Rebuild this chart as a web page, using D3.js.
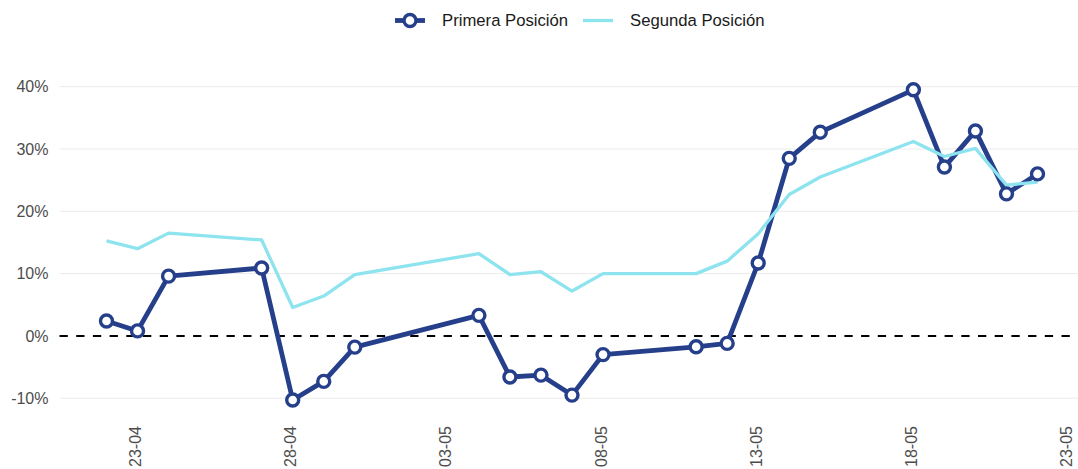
<!DOCTYPE html>
<html>
<head>
<meta charset="utf-8">
<script src="https://cdn.jsdelivr.net/npm/d3@7"></script>
<style>
  body { margin: 0; background: #fff; }
  svg text { font-family: "Liberation Sans", Arial, sans-serif; }
</style>
</head>
<body>
<div id="chart"></div>
<script>
// data
const dates = ["2023-04-22", "2023-04-23", "2023-04-24", "2023-04-27", "2023-04-28", "2023-04-29",
    "2023-04-30", "2023-05-04", "2023-05-05", "2023-05-06", "2023-05-07", "2023-05-08",
    "2023-05-11", "2023-05-12", "2023-05-13", "2023-05-14", "2023-05-15", "2023-05-18",
    "2023-05-19", "2023-05-20", "2023-05-21", "2023-05-22"];
const primera = [2.4, 0.8, 9.6, 10.9, -10.3, -7.3, -1.8, 3.3, -6.6, -6.3, -9.5, -3.0,
    -1.75, -1.2, 11.7, 28.5, 32.7, 39.5, 27.1, 32.9, 22.8, 26.0];
const segunda = [15.25, 14.0, 16.5, 15.4, 4.55, 6.4, 9.85, 13.2, 9.85, 10.3, 7.2, 10.0,
    10.0, 12.0, 16.4, 22.7, 25.5, 31.2, 28.8, 30.1, 24.2, 24.7];
const yTicks = [-10, 0, 10, 20, 30, 40];
const xTicks = ["2023-04-23", "2023-04-28", "2023-05-03", "2023-05-08", "2023-05-13", "2023-05-18", "2023-05-23"];
const seriesNames = ["Primera Posición", "Segunda Posición"];

const width = 1078, height = 469;
const colPrim = "#263f8b", colSeg = "#8de3ee";

const svg = d3.select("#chart").append("svg")
    .attr("width", width)
    .attr("height", height);

const parse = d3.utcParse("%Y-%m-%d");
const fmt = d3.utcFormat("%d-%m");

const x = d3.scaleUtc()
    .domain([parse(dates[0]), parse(dates[dates.length - 1])])
    .range([106.5, 1037.5]);
const y = d3.scaleLinear()
    .domain([-10, 40])
    .range([398.2, 86.7]);

const plotLeft = 59.5, plotRight = width;

// grid lines
svg.append("g")
    .selectAll("line")
    .data(yTicks.filter(d => d !== 0))
    .enter().append("line")
    .attr("x1", plotLeft).attr("x2", plotRight)
    .attr("y1", d => y(d)).attr("y2", d => y(d))
    .attr("stroke", "#ebebeb")
    .attr("stroke-width", 1);

// y axis labels
const yAxis = svg.append("g")
    .attr("transform", "translate(" + plotLeft + ",0)")
    .call(d3.axisLeft(y).tickValues(yTicks).tickSize(0).tickPadding(11).tickFormat(d => d + "%"));
yAxis.select(".domain").remove();
yAxis.selectAll("text").style("font-size", "16px").attr("fill", "#4d4d4d");

// x axis labels
const xAxis = svg.append("g")
    .attr("transform", "translate(0,415)")
    .call(d3.axisBottom(x).tickValues(xTicks.map(parse)).tickSize(0).tickFormat(fmt));
xAxis.select(".domain").remove();
xAxis.selectAll("text")
    .style("font-size", "16px")
    .attr("fill", "#4d4d4d")
    .attr("text-anchor", "end")
    .attr("dy", null)
    .attr("y", 0)
    .attr("x", -11)
    .attr("dx", 0)
    .attr("transform", "rotate(-90) translate(0,3)");

// zero reference line
svg.append("line")
    .attr("x1", plotLeft).attr("x2", plotRight)
    .attr("y1", y(0)).attr("y2", y(0))
    .attr("stroke", "#000")
    .attr("stroke-width", 2)
    .attr("stroke-dasharray", "8.3,8.4");

const primData = dates.map((d, i) => ({date: parse(d), value: primera[i]}));
const segData = dates.map((d, i) => ({date: parse(d), value: segunda[i]}));

const line = d3.line()
    .x(d => x(d.date))
    .y(d => y(d.value));

svg.append("path")
    .datum(primData)
    .attr("fill", "none")
    .attr("stroke", colPrim)
    .attr("stroke-width", 4.8)
    .attr("stroke-linejoin", "round")
    .attr("d", line);

svg.append("path")
    .datum(segData)
    .attr("fill", "none")
    .attr("stroke", colSeg)
    .attr("stroke-width", 3.3)
    .attr("stroke-linejoin", "round")
    .attr("d", line);

svg.append("g")
    .selectAll("circle")
    .data(primData)
    .enter().append("circle")
    .attr("cx", d => x(d.date))
    .attr("cy", d => y(d.value))
    .attr("r", 6)
    .attr("fill", "#fff")
    .attr("stroke", colPrim)
    .attr("stroke-width", 3.4);

// legend
const legend = svg.append("g").attr("transform", "translate(0,20.5)");
legend.append("line")
    .attr("x1", 395).attr("x2", 425).attr("y1", 0).attr("y2", 0)
    .attr("stroke", colPrim).attr("stroke-width", 4.8);
legend.append("circle")
    .attr("cx", 410).attr("cy", 0).attr("r", 6)
    .attr("fill", "#fff").attr("stroke", colPrim).attr("stroke-width", 3.4);
legend.append("text")
    .attr("x", 442).attr("y", 5.8)
    .style("font-size", "16.7px").attr("fill", "#1a1a1a")
    .text(seriesNames[0]);
legend.append("line")
    .attr("x1", 583).attr("x2", 613).attr("y1", 0).attr("y2", 0)
    .attr("stroke", colSeg).attr("stroke-width", 3.3);
legend.append("text")
    .attr("x", 630).attr("y", 5.8)
    .style("font-size", "16.7px").attr("fill", "#1a1a1a")
    .text(seriesNames[1]);
</script>
</body>
</html>
